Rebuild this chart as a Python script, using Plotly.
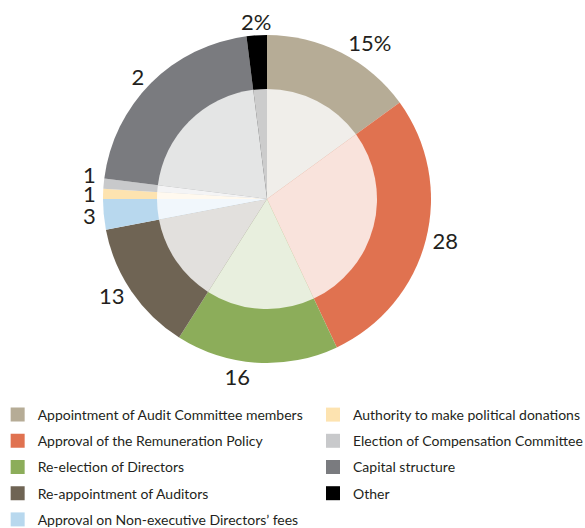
import math
import plotly.graph_objects as go

categories = [
    "Appointment of Audit Committee members",
    "Approval of the Remuneration Policy",
    "Re-election of Directors",
    "Re-appointment of Auditors",
    "Approval on Non-executive Directors’ fees",
    "Authority to make political donations",
    "Election of Compensation Committee",
    "Capital structure",
    "Other",
]
values = [15, 28, 16, 13, 3, 1, 1, 21, 2]
labels_text = ["15%", "28", "16", "13", "3", "1", "1", "2", "2%"]
colors = ["#B6AC96", "#E07250", "#8CAD5A", "#6F6454", "#B8D8EE",
          "#FDE3B0", "#C8C9CB", "#7A7B7F", "#000000"]


def lighten(hexcol, a=0.8):
    h = hexcol.lstrip("#")
    r, g, b = (int(h[i:i + 2], 16) for i in (0, 2, 4))
    r, g, b = (round(c * (1 - a) + 255 * a) for c in (r, g, b))
    return f"rgb({r},{g},{b})"


W, H = 585, 528
cx, cy = 267, 199
R_out, R_in = 164, 110
LABEL_R = 178
SMALL = 5  # slices below this share get spread labels (no leader lines)
LABEL_SIZE = 22


def dom(r):
    return dict(x=[(cx - r) / W, (cx + r) / W],
                y=[(H - cy - r) / H, (H - cy + r) / H])


label_font = "Lato, 'Open Sans', sans-serif"
label_color = "#231F20"

small_idx = [i for i, v in enumerate(values) if v < SMALL]
textpos = ["none" if i in small_idx else "outside" for i in range(len(values))]

fig = go.Figure()
fig.add_trace(go.Pie(
    values=values, labels=categories, text=labels_text,
    textinfo="text", textposition=textpos,
    marker=dict(colors=colors, line=dict(width=0)),
    sort=False, direction="clockwise", rotation=0,
    domain=dom(R_out), showlegend=False,
    outsidetextfont=dict(size=LABEL_SIZE, color=label_color, family=label_font),
))
fig.add_trace(go.Pie(
    values=values, labels=categories,
    textinfo="none", hoverinfo="skip",
    marker=dict(colors=[lighten(c) for c in colors], line=dict(width=0)),
    sort=False, direction="clockwise", rotation=0,
    domain=dom(R_in), showlegend=False,
))

# labels for the tiny slices: placed at their mid-angle, spread upward
total = sum(values)
cum = 0
mids = []
for v in values:
    mids.append((cum + v / 2) / total * 2 * math.pi)
    cum += v
pts = []
for i in small_idx:
    a = mids[i]
    px = cx + LABEL_R * math.sin(a)
    py = cy - LABEL_R * math.cos(a)
    pts.append([py, px, i])
left_pts = sorted([p for p in pts if p[1] < cx], reverse=True)  # bottom first
MIN_GAP = 19
for k in range(1, len(left_pts)):
    if left_pts[k - 1][0] - left_pts[k][0] < MIN_GAP:
        left_pts[k][0] = left_pts[k - 1][0] - MIN_GAP
for py, px, i in left_pts:
    fig.add_annotation(
        x=px / W, y=(H - py) / H, xref="paper", yref="paper",
        text=labels_text[i], showarrow=False,
        font=dict(size=LABEL_SIZE, color=label_color, family=label_font),
        xanchor="center", yanchor="middle",
    )

for i, (name, col) in enumerate(zip(categories, colors)):
    fig.add_trace(go.Scatter(
        x=[None], y=[None], mode="markers", name=name,
        marker=dict(symbol="square", size=14, color=col),
        legendgroup=f"g{i}",
        legend="legend" if i < 5 else "legend2",
    ))

legend_common = dict(
    font=dict(size=14, color=label_color, family=label_font),
    tracegroupgap=5, bgcolor="rgba(0,0,0,0)",
    xanchor="left", yanchor="top", itemwidth=30,
)
fig.update_layout(
    width=W, height=H,
    margin=dict(l=0, r=0, t=0, b=0, autoexpand=False),
    paper_bgcolor="white", plot_bgcolor="white",
    xaxis=dict(visible=False), yaxis=dict(visible=False),
    legend=dict(x=-0.004, y=(H - 399) / H, **legend_common),
    legend2=dict(x=0.535, y=(H - 399) / H, **legend_common),
)
fig.write_html("out.html")
